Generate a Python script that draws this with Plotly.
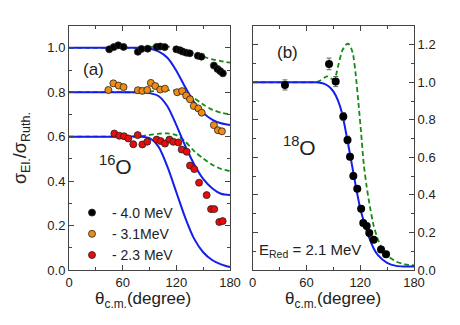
import plotly.graph_objects as go

# ---------------- Panel (a) data ----------------
theta_40 = [45, 50, 55, 61, 77, 81, 88, 98, 102, 107, 120, 124, 127, 131, 135, 144, 148, 162, 166, 169, 172]
sigma_40 = [0.993, 1.003, 1.011, 1.004, 0.982, 0.995, 0.996, 1.004, 1.006, 1.003, 0.993, 0.989, 0.983, 0.978,
            0.975, 0.964, 0.960, 0.920, 0.905, 0.895, 0.885]

theta_31 = [44, 49.6, 55.5, 61, 77, 82, 87.5, 91.5, 96.5, 102, 107.3, 121, 126.5, 131, 135.3, 139.5, 144.6,
            148.4, 162, 166.5, 171]
sigma_31 = [0.810, 0.840, 0.830, 0.823, 0.809, 0.806, 0.810, 0.842, 0.828, 0.812, 0.816, 0.800, 0.805, 0.785,
            0.768, 0.738, 0.727, 0.708, 0.652, 0.629, 0.624]

theta_23 = [50.7, 56.3, 61.5, 66.3, 71.9, 76.8, 82, 87.5, 98, 102.5, 107.3, 112.2, 116.6, 122.2, 126, 131.6,
            135.3, 140.1, 145.4, 153.9, 158.8, 162.4, 168, 171.8]
sigma_23 = [0.614, 0.604, 0.602, 0.592, 0.566, 0.607, 0.565, 0.577, 0.587, 0.580, 0.569, 0.587, 0.577, 0.574,
            0.542, 0.532, 0.470, 0.454, 0.393, 0.337, 0.274, 0.274, 0.216, 0.220]

theta_curve_a = [0, 20, 40, 60, 80, 90, 100, 110, 120, 130, 140, 150, 160, 170, 180]
blue_40 = [1.0, 1.0, 1.0, 1.0, 1.0, 0.997, 0.984, 0.955, 0.897, 0.822, 0.754, 0.707, 0.677, 0.660, 0.652]
blue_31 = [0.8, 0.8, 0.8, 0.8, 0.8, 0.796, 0.783, 0.737, 0.652, 0.558, 0.475, 0.410, 0.368, 0.343, 0.337]
blue_23 = [0.6, 0.6, 0.6, 0.6, 0.6, 0.593, 0.555, 0.465, 0.350, 0.235, 0.140, 0.080, 0.045, 0.025, 0.013]
green_40 = [1.0, 1.0, 1.0, 1.0, 1.0, 1.003, 1.007, 1.006, 0.999, 0.990, 0.976, 0.960, 0.948, 0.940, 0.933]
green_31 = [0.8, 0.8, 0.8, 0.8, 0.8, 0.803, 0.807, 0.809, 0.806, 0.796, 0.773, 0.745, 0.722, 0.708, 0.701]
green_23 = [0.6, 0.6, 0.6, 0.6, 0.602, 0.608, 0.613, 0.615, 0.607, 0.578, 0.535, 0.502, 0.474, 0.455, 0.445]

# ---------------- Panel (b) data ----------------
theta_18 = [36, 85.2, 92.6, 101.1, 105.8, 108.6, 112.3, 116.7, 121, 123.4, 127.2, 130.1, 135, 143.2, 148.8]
sigma_18 = [0.986, 1.098, 1.004, 0.818, 0.693, 0.603, 0.501, 0.433, 0.326, 0.251, 0.234, 0.197, 0.161, 0.109, 0.084]
err_18 = [0.027, 0.031, 0.027, 0.02, 0.02, 0.015, 0.015, 0.012, 0.012, 0.01, 0.01, 0.01, 0.01, 0.01, 0.01]

theta_blue_b = [0, 20, 40, 60, 70, 75, 80, 85, 90, 95, 100, 105, 110, 115, 120, 125, 130, 135, 140, 150, 160, 170, 180]
blue_b = [1.0, 1.0, 1.0, 1.0, 1.0, 0.998, 0.992, 0.978, 0.952, 0.905, 0.830, 0.710, 0.580, 0.448, 0.328, 0.244,
          0.172, 0.115, 0.078, 0.038, 0.022, 0.019, 0.018]
theta_green_b = [0, 20, 40, 60, 70, 75, 80, 83, 87, 90, 93, 96, 100, 104, 107, 110, 112, 115, 118, 121, 124, 127,
                 130, 135, 140, 145, 150, 160, 170, 180]
green_b = [1.0, 1.0, 1.0, 1.0, 1.0, 1.008, 1.025, 1.032, 1.022, 1.014, 1.04, 1.10, 1.17, 1.20, 1.205, 1.18, 1.15,
           1.04, 0.89, 0.73, 0.56, 0.45, 0.36, 0.235, 0.16, 0.11, 0.078, 0.045, 0.030, 0.025]

x_ticks = [0, 60, 120, 180]

BLUE = "rgb(20,30,235)"
GREEN = "rgb(20,140,20)"
FONT = "Liberation Sans, Arial, sans-serif"
AXC = "#444444"

# the page body has an 8px margin: size the figure to fit the 460x325 window
OFF = 8
W, H = 460 - OFF, 325 - OFF


def px(x):
    return (x - OFF) / W


def py(y):
    return 1 - (y - OFF) / H


fig = go.Figure()

# panel (a) curves
for g in (green_40, green_31, green_23):
    fig.add_trace(go.Scatter(x=theta_curve_a, y=g, mode="lines", line=dict(color=GREEN, width=1.8, dash="5px,3px",
                             shape="spline", smoothing=0.8), showlegend=False, xaxis="x", yaxis="y"))
for b in (blue_40, blue_31, blue_23):
    fig.add_trace(go.Scatter(x=theta_curve_a, y=b, mode="lines", line=dict(color=BLUE, width=2,
                             shape="spline", smoothing=0.8), showlegend=False, xaxis="x", yaxis="y"))

series = [(theta_40, sigma_40, "black", "- 4.0 MeV"),
          (theta_31, sigma_31, "rgb(240,140,20)", "- 3.1MeV"),
          (theta_23, sigma_23, "rgb(232,12,12)", "- 2.3 MeV")]
for th, s, c, name in series:
    fig.add_trace(go.Scatter(x=th, y=s, mode="markers", name=name,
                             marker=dict(color=c, size=7, line=dict(color="#222", width=0.8)),
                             error_y=dict(type="constant", value=0.009, color="#999", thickness=1.2, width=1.5),
                             xaxis="x", yaxis="y"))

# panel (b)
fig.add_trace(go.Scatter(x=theta_green_b, y=green_b, mode="lines",
                         line=dict(color=GREEN, width=1.8, dash="5px,3px", shape="spline", smoothing=0.6),
                         showlegend=False, xaxis="x2", yaxis="y2"))
fig.add_trace(go.Scatter(x=theta_blue_b, y=blue_b, mode="lines",
                         line=dict(color=BLUE, width=2, shape="spline", smoothing=0.6),
                         showlegend=False, xaxis="x2", yaxis="y2"))
fig.add_trace(go.Scatter(x=theta_18, y=sigma_18, mode="markers", showlegend=False,
                         marker=dict(color="black", size=8),
                         error_y=dict(type="data", array=err_18, color="#666", thickness=1, width=2.5),
                         xaxis="x2", yaxis="y2"))

ax_common = dict(showline=True, linecolor=AXC, linewidth=1, mirror="allticks", ticks="inside", ticklen=5,
                 tickcolor=AXC, showgrid=False, zeroline=False, automargin=False,
                 tickfont=dict(family=FONT, size=13, color="#222"))

y_dom = [py(270), py(26)]
fig.update_layout(
    width=W, height=H, margin=dict(l=0, r=0, t=0, b=0, autoexpand=False),
    paper_bgcolor="white", plot_bgcolor="white",
    font=dict(family=FONT, color="#222"),
    xaxis=dict(domain=[px(69), px(230)], range=[0, 180], tickvals=x_ticks,
               minor=dict(ticks="inside", ticklen=3, dtick=30, tick0=0, tickcolor=AXC), anchor="y", **ax_common),
    yaxis=dict(domain=y_dom, range=[0, 1.098], dtick=0.2, tickformat=".1f",
               minor=dict(ticks="inside", ticklen=3, dtick=0.1, tick0=0, tickcolor=AXC), anchor="x", **ax_common),
    xaxis2=dict(domain=[px(252.7), px(414)], range=[0, 180], tickvals=x_ticks,
                minor=dict(ticks="inside", ticklen=3, dtick=30, tick0=0, tickcolor=AXC), anchor="y2", **ax_common),
    yaxis2=dict(domain=y_dom, range=[0, 1.3], dtick=0.2, tickformat=".1f", side="right",
                minor=dict(ticks="inside", ticklen=3, dtick=0.1, tick0=0, tickcolor=AXC), anchor="x2", **ax_common),
    legend=dict(x=px(72), y=py(197), xanchor="left", yanchor="top", bgcolor="rgba(0,0,0,0)",
                font=dict(family=FONT, size=14, color="#222"), tracegroupgap=0),
)

ann = [
    dict(text="σ<sub>El.</sub>/σ<sub>Ruth.</sub>", x=22, y=148, textangle=-90, size=18),
    dict(text="θ<sub>c.m.</sub>(degree)", x=143, y=300, textangle=0, size=17),
    dict(text="θ<sub>c.m.</sub>(degree)", x=333, y=300, textangle=0, size=17),
    dict(text="(a)", x=93.5, y=69, textangle=0, size=17),
    dict(text="<sup>16</sup>O", x=115, y=165, textangle=0, size=21),
    dict(text="(b)", x=287.5, y=52, textangle=0, size=17),
    dict(text="<sup>18</sup>O", x=299, y=146, textangle=0, size=21),
    dict(text="E<sub>Red</sub> = 2.1 MeV", x=310, y=250, textangle=0, size=15),
]
for a in ann:
    fig.add_annotation(text=a["text"], x=px(a["x"]), y=py(a["y"]), xref="paper", yref="paper", showarrow=False,
                       textangle=a["textangle"], xanchor="center", yanchor="middle",
                       font=dict(family=FONT, size=a["size"], color="#222"))

fig.write_html("out.html")
